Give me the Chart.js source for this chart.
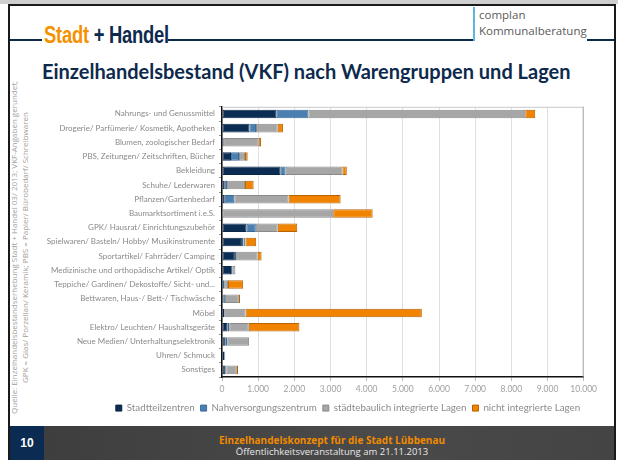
<!DOCTYPE html>
<html>
<head>
<meta charset="utf-8">
<script src="https://cdn.jsdelivr.net/npm/chart.js@4"></script>
<style>
html,body{margin:0;padding:0;width:618px;height:461px;overflow:hidden;background:#fff;font-family:Lato,"Open Sans",sans-serif;}
#topband{position:absolute;left:0;top:0;width:618px;height:4px;background:#cfcfcf;}
#frame{position:absolute;left:8px;top:4px;width:608px;height:456px;border-top:2px solid #1a1a1a;border-left:2px solid #1a1a1a;border-right:2px solid #1a1a1a;box-sizing:border-box;}
#hline{position:absolute;left:10px;top:39px;width:604px;height:2px;background:#0d2a4d;}
#logobg{position:absolute;left:42px;top:22px;width:126px;height:24px;background:#fff;}
#logo{position:absolute;left:44px;top:24px;height:22px;font-family:"Liberation Sans",Arial,sans-serif;font-weight:bold;font-size:23px;line-height:22px;color:#0d2a4d;letter-spacing:-0.3px;transform:scaleX(0.8);transform-origin:0 0;white-space:nowrap;}
#logo .o{color:#f39200;}
#complan{position:absolute;left:473px;top:7px;height:34px;padding-left:4px;border-left:2px solid #59b7e6;background:#fff;font-family:"Open Sans",sans-serif;font-size:11.5px;line-height:16px;color:#5a5a5a;}
#title{position:absolute;left:42px;top:59px;font-family:Lato,sans-serif;font-weight:700;font-size:20px;color:#0d2a4d;white-space:nowrap;}
.side{position:absolute;font-family:"Open Sans",sans-serif;font-size:8px;color:#a0a0a0;white-space:nowrap;transform-origin:0 0;}
#chartwrap{position:absolute;left:40px;top:98px;width:560px;height:325px;}
#footer{position:absolute;left:10px;top:426px;width:604px;height:34px;background:linear-gradient(90deg,#3d3d3d,#4a4a4a 60%,#444);}
#pg{position:absolute;left:0;top:0;width:34px;height:34px;background:#0b2b52;color:#fff;font-family:"Liberation Sans",Arial,sans-serif;font-weight:bold;font-size:12px;line-height:34px;text-align:center;}
#f1{position:absolute;left:0;width:644px;top:8px;text-align:center;color:#f08a00;font-family:"Open Sans",sans-serif;font-weight:700;font-size:10px;line-height:12px;}
#f2{position:absolute;left:0;width:644px;top:20px;text-align:center;color:#e8e8e8;font-family:"Open Sans",sans-serif;font-size:9.5px;line-height:12px;}
</style>
</head>
<body>
<div id="topband"></div>
<div id="frame"></div>
<div id="hline"></div>
<div id="logobg"></div>
<div id="logo"><span class="o">Stadt</span> + Handel</div>
<div id="complan">complan<br>Kommunalberatung</div>
<div id="title">Einzelhandelsbestand (VKF) nach Warengruppen und Lagen</div>
<div class="side" id="s1">Quelle: Einzelhandelsbestandserhebung Stadt + Handel 03/ 2013; VKF-Angaben gerundet;</div>
<div class="side" id="s2">GPK = Glas/ Porzellan/ Keramik; PBS = Papier/ Bürobedarf/ Schreibwaren</div>
<div id="chartwrap"><canvas id="c" width="560" height="325"></canvas></div>
<div id="footer"><div id="pg">10</div><div id="f1">Einzelhandelskonzept für die Stadt Lübbenau</div><div id="f2">Öffentlichkeitsveranstaltung am 21.11.2013</div></div>
<script>
const categories = [
  "Nahrungs- und Genussmittel",
  "Drogerie/ Parfümerie/ Kosmetik, Apotheken",
  "Blumen, zoologischer Bedarf",
  "PBS, Zeitungen/ Zeitschriften, Bücher",
  "Bekleidung",
  "Schuhe/ Lederwaren",
  "Pflanzen/Gartenbedarf",
  "Baumarktsortiment i.e.S.",
  "GPK/ Hausrat/ Einrichtungszubehör",
  "Spielwaren/ Basteln/ Hobby/ Musikinstrumente",
  "Sportartikel/ Fahrräder/ Camping",
  "Medizinische und orthopädische Artikel/ Optik",
  "Teppiche/ Gardinen/ Dekostoffe/ Sicht- und...",
  "Bettwaren, Haus-/ Bett-/ Tischwäsche",
  "Möbel",
  "Elektro/ Leuchten/ Haushaltsgeräte",
  "Neue Medien/ Unterhaltungselektronik",
  "Uhren/ Schmuck",
  "Sonstiges"
];
const seriesNames = ["Stadtteilzentren","Nahversorgungszentrum","städtebaulich integrierte Lagen","nicht integrierte Lagen"];
const stadtteilzentren      = [1510, 760,  45, 250, 1620,  75,   75,   15, 680, 550, 355, 250,  25,  45,   55,  155, 100, 70, 100];
const nahversorgungszentrum = [ 880, 180,   0, 220,  140,  65,  265,    0, 255,  45,  35,  35,  35,  35,   20,   45,  55, 20,  20];
const integrierteLagen      = [5995, 600, 970, 165, 1570, 495, 1500, 3060, 605,  55, 595,  85, 105, 385,  575,  540, 595,  0, 290];
const nichtIntegrierteLagen = [ 275, 145,  65,  75,  120, 240, 1440, 1090, 540, 295, 110,   0, 420,  35, 4875, 1400,   0,  0,  35];
const xTickLabels = ["0","1.000","2.000","3.000","4.000","5.000","6.000","7.000","8.000","9.000","10.000"];

// side notes
const s1 = document.getElementById('s1'), s2 = document.getElementById('s2');
function placeSide(el, x, cy){
  const w = el.offsetWidth;
  el.style.left = x + 'px';
  el.style.top = (cy + w/2) + 'px';
  el.style.transform = 'rotate(-90deg)';
}
placeSide(s1, 8, 247);
placeSide(s2, 19, 247);

const fills   = ['#0b2d53','#4a7fb1','#a6a6a6','#f08400'];
const borders = ['#0a2747','#3b6a97','#8a8a8a','#b86300'];
const vals = [stadtteilzentren, nahversorgungszentrum, integrierteLagen, nichtIntegrierteLagen];

const framePlugin = {
  id:'frame',
  afterLayout(chart){
    // centre the legend under the whole slide area as in the original
    const lg = chart.legend;
    if (lg) {
      const want = 348 - 40; // canvas-relative centre
      const d = want - (lg.left + lg.right)/2;
      lg.left += d; lg.right += d;
      if (lg.adjustHitBoxes) lg.adjustHitBoxes();
    }
  },
  beforeDatasetsDraw(chart){
    const {ctx, chartArea:a} = chart;
    ctx.save();
    ctx.strokeStyle = '#c8c8c8';
    ctx.lineWidth = 1;
    ctx.beginPath();
    ctx.moveTo(a.left, a.top+0.5); ctx.lineTo(a.right, a.top+0.5);
    ctx.stroke();
    ctx.strokeStyle = '#a8a8a8';
    ctx.beginPath();
    ctx.moveTo(a.right-0.5, a.top); ctx.lineTo(a.right-0.5, a.bottom);
    ctx.stroke();
    ctx.restore();
  }
};

new Chart(document.getElementById('c'), {
  type:'bar',
  data:{
    labels:categories,
    datasets: seriesNames.map((n,i)=>({
      label:n,
      data:vals[i],
      backgroundColor:fills[i],
      borderColor:borders[i],
      borderWidth:1,
      borderSkipped:false,
      barPercentage:0.6,
      categoryPercentage:1.0
    }))
  },
  options:{
    indexAxis:'y',
    responsive:false,
    animation:false,
    devicePixelRatio:1,
    layout:{padding:{left:0,top:3,right:0,bottom:0}},
    plugins:{
      legend:{
        position:'bottom',
        labels:{
          boxWidth:6, boxHeight:6, padding:6,
          color:'#8c8c8c',
          font:{family:'Lato, sans-serif', size:9.8}
        }
      },
      tooltip:{enabled:false}
    },
    scales:{
      x:{
        stacked:true, min:0, max:10000,
        ticks:{stepSize:1000, color:'#a0a0a0', padding:3,
          font:{family:'Lato, sans-serif', size:8.5},
          callback:(v,i)=>xTickLabels[i]},
        grid:{color:'#e0e0e0', tickLength:4, tickColor:'#bbb'},
        border:{color:'#111', width:1.5}
      },
      y:{
        stacked:true,
        ticks:{autoSkip:false, color:'#8a8a8a', padding:4, font:{family:'Lato, sans-serif', size:8}},
        grid:{display:true, drawOnChartArea:false, tickLength:3, color:'#999'},
        border:{color:'#111', width:1.5},
        afterFit(s){ s.width = 182; }
      }
    }
  },
  plugins:[framePlugin]
});
</script>
</body>
</html>
